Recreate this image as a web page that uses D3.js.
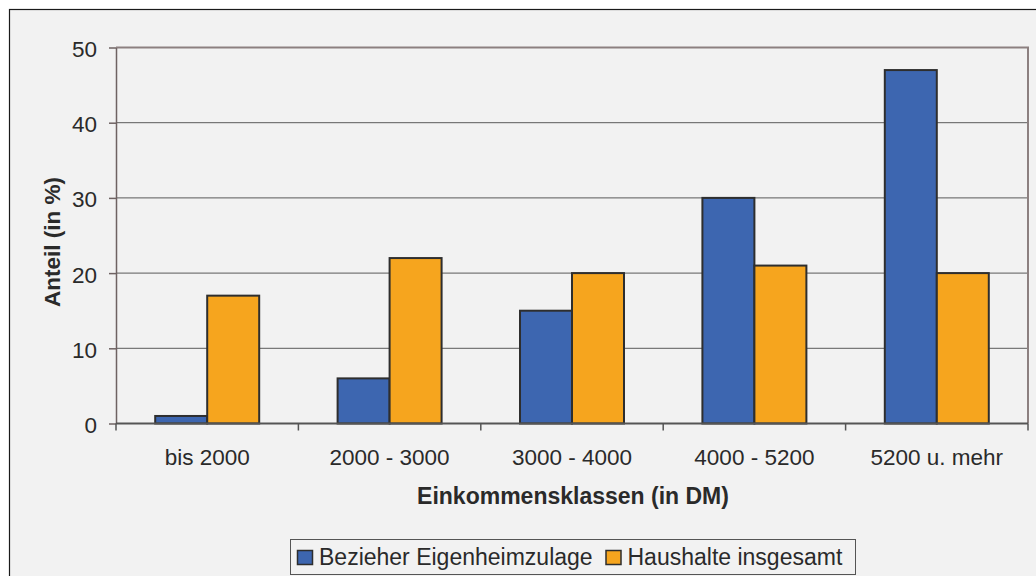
<!DOCTYPE html>
<html>
<head>
<meta charset="utf-8">
<script src="https://cdn.jsdelivr.net/npm/d3@7"></script>
<style>
  html, body { margin: 0; padding: 0; background: #ffffff; }
  svg { display: block; font-family: "Liberation Sans", Arial, sans-serif; }
</style>
</head>
<body>
<svg id="chart" width="1036" height="576"></svg>
<script>
// Einkommensklassen and the share of each group per class
const categories = ["bis 2000", "2000 - 3000", "3000 - 4000", "4000 - 5200", "5200 u. mehr"];
const seriesNames = ["Bezieher Eigenheimzulage", "Haushalte insgesamt"];
const bezieher = [1, 6, 15, 30, 47];
const haushalte = [17, 22, 20, 21, 20];
const yTicks = [0, 10, 20, 30, 40, 50];
const colors = ["#3d66b0", "#f6a51e"];

const svg = d3.select("#chart");
const W = 1036, H = 576;
const plot = { left: 116, right: 1028, top: 47.5, bottom: 423.5 };
const textColor = "#2a2a2a";

// chart area background and frame
svg.append("rect")
  .attr("x", 9.5).attr("y", 9.5)
  .attr("width", W + 10).attr("height", H + 10)
  .attr("fill", "#f2f2f2")
  .attr("stroke", "#1a1a1a").attr("stroke-width", 1.2);

const x = d3.scaleBand().domain(categories).range([plot.left, plot.right]).paddingInner(0).paddingOuter(0);
const x1 = d3.scaleBand().domain(seriesNames).range([0, x.bandwidth()]).paddingInner(0).paddingOuter(0.754);
const y = d3.scaleLinear().domain([0, 50]).range([plot.bottom, plot.top]);

// horizontal gridlines
svg.append("g").selectAll("line")
  .data(yTicks.filter(t => t > 0 && t < 50))
  .join("line")
  .attr("x1", plot.left).attr("x2", plot.right)
  .attr("y1", d => y(d)).attr("y2", d => y(d))
  .attr("stroke", "#5a5a5a").attr("stroke-width", 1);

// plot frame (top and right)
svg.append("path")
  .attr("d", `M${plot.left},${y(50)}H${plot.right}V${plot.bottom}`)
  .attr("fill", "none").attr("stroke", "#8c8080").attr("stroke-width", 2);

// bars
const rows = categories.map((c, i) => ({ cat: c, values: [bezieher[i], haushalte[i]] }));
const groups = svg.append("g").selectAll("g")
  .data(rows).join("g")
  .attr("transform", d => `translate(${x(d.cat)},0)`);
groups.selectAll("rect")
  .data(d => d.values.map((v, k) => ({ name: seriesNames[k], v, k })))
  .join("rect")
  .attr("x", d => x1(d.name))
  .attr("width", x1.bandwidth())
  .attr("y", d => y(d.v))
  .attr("height", d => y(0) - y(d.v))
  .attr("fill", d => colors[d.k])
  .attr("stroke", "#2e2e2e").attr("stroke-width", 2);

// y axis
const yAxis = d3.axisLeft(y).tickValues(yTicks).tickSize(7).tickPadding(12).tickSizeOuter(0);
const gy = svg.append("g").attr("transform", `translate(${plot.left},0)`).call(yAxis);
gy.attr("font-family", null).attr("font-size", null);
gy.select(".domain").attr("stroke", "#6e6262").attr("stroke-width", 1.5);
gy.selectAll(".tick line").attr("stroke", "#6e6262").attr("stroke-width", 1.5);
gy.selectAll(".tick text")
  .attr("font-size", 22.5).attr("fill", textColor)
  .attr("dy", "0.4em");

// x axis
const xTickScale = d3.scaleLinear().domain([0, categories.length]).range([plot.left, plot.right]);
const gx = svg.append("g");
gx.append("line")
  .attr("x1", plot.left).attr("x2", plot.right)
  .attr("y1", plot.bottom).attr("y2", plot.bottom)
  .attr("stroke", "#555").attr("stroke-width", 2);
gx.selectAll("line.tick")
  .data(d3.range(categories.length + 1))
  .join("line").attr("class", "tick")
  .attr("x1", d => xTickScale(d)).attr("x2", d => xTickScale(d))
  .attr("y1", plot.bottom).attr("y2", plot.bottom + 7)
  .attr("stroke", "#555").attr("stroke-width", 1.5);
gx.selectAll("text")
  .data(categories)
  .join("text")
  .attr("x", d => x(d) + x.bandwidth() / 2)
  .attr("y", 464.5)
  .attr("text-anchor", "middle")
  .attr("font-size", 22.5).attr("fill", textColor)
  .text(d => d);

// axis titles
svg.append("text")
  .attr("x", 573).attr("y", 504)
  .attr("text-anchor", "middle")
  .attr("font-size", 23).attr("font-weight", "bold").attr("fill", textColor)
  .text("Einkommensklassen (in DM)");
svg.append("text")
  .attr("transform", `translate(60,242) rotate(-90)`)
  .attr("text-anchor", "middle")
  .attr("font-size", 22.5).attr("font-weight", "bold").attr("fill", textColor)
  .text("Anteil (in %)");

// legend
const legend = svg.append("g");
legend.append("rect")
  .attr("x", 290.5).attr("y", 539.5).attr("width", 565).attr("height", 35)
  .attr("fill", "none").attr("stroke", "#555").attr("stroke-width", 1);
const items = [
  { name: seriesNames[0], color: colors[0], x: 297 },
  { name: seriesNames[1], color: colors[1], x: 605.5 }
];
const li = legend.selectAll("g.item").data(items).join("g").attr("class", "item")
  .attr("transform", d => `translate(${d.x},0)`);
li.append("rect")
  .attr("x", 0.5).attr("y", 550.5).attr("width", 15).attr("height", 14)
  .attr("fill", d => d.color).attr("stroke", "#2e2e2e").attr("stroke-width", 1.5);
li.append("text")
  .attr("x", 22).attr("y", 565)
  .attr("font-size", 23).attr("fill", textColor)
  .text(d => d.name);
</script>
</body>
</html>
